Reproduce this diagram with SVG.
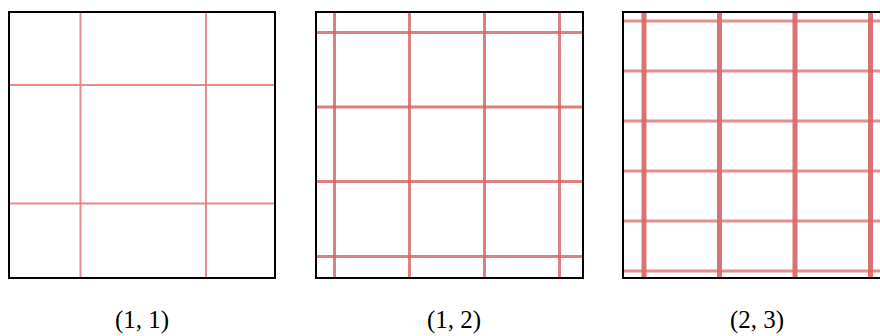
<svg xmlns="http://www.w3.org/2000/svg" width="880" height="336" viewBox="0 0 880 336">
<style>
.frame{fill:none;stroke:#000;stroke-width:2}
.l1{stroke:#e07878;stroke-width:2;stroke-opacity:0.85}
.l2{stroke:#d46060;stroke-width:3;stroke-opacity:0.8}
.v3{stroke:#d45c5c;stroke-width:5;stroke-opacity:0.85}
.h3{stroke:#dc6a6a;stroke-width:3;stroke-opacity:0.75}
.lbl{font-family:"Liberation Serif","DejaVu Serif",serif;font-size:25px;fill:#000;text-anchor:middle}
</style>
<defs><clipPath id="c3"><rect x="623" y="12" width="266" height="266"/></clipPath></defs>
<g id="panel1">
<rect x="9" y="12" width="266" height="266" fill="#fff"/>
<line class="l1" x1="80.5" y1="13" x2="80.5" y2="277"/>
<line class="l1" x1="206" y1="13" x2="206" y2="277"/>
<line class="l1" x1="10" y1="85" x2="274" y2="85"/>
<line class="l1" x1="10" y1="203.5" x2="274" y2="203.5"/>
<rect class="frame" x="9" y="12" width="266" height="266"/>
<text class="lbl" x="142" y="328">(1, 1)</text>
</g>
<g id="panel2">
<rect x="316" y="12" width="267" height="266" fill="#fff"/>
<line class="l2" x1="334.5" y1="13" x2="334.5" y2="277"/>
<line class="l2" x1="409.5" y1="13" x2="409.5" y2="277"/>
<line class="l2" x1="484.5" y1="13" x2="484.5" y2="277"/>
<line class="l2" x1="559.5" y1="13" x2="559.5" y2="277"/>
<line class="l2" x1="317" y1="32.5" x2="582" y2="32.5"/>
<line class="l2" x1="317" y1="107" x2="582" y2="107"/>
<line class="l2" x1="317" y1="181.5" x2="582" y2="181.5"/>
<line class="l2" x1="317" y1="256.5" x2="582" y2="256.5"/>
<rect class="frame" x="316" y="12" width="267" height="266"/>
<text class="lbl" x="454" y="328">(1, 2)</text>
</g>
<g id="panel3">
<rect x="623" y="12" width="266" height="266" fill="#fff"/>
<g clip-path="url(#c3)">
<line class="v3" x1="644" y1="13" x2="644" y2="277"/>
<line class="v3" x1="719.5" y1="13" x2="719.5" y2="277"/>
<line class="v3" x1="795" y1="13" x2="795" y2="277"/>
<line class="v3" x1="870.5" y1="13" x2="870.5" y2="277"/>
<line class="h3" x1="624" y1="21" x2="888" y2="21"/>
<line class="h3" x1="624" y1="71" x2="888" y2="71"/>
<line class="h3" x1="624" y1="121" x2="888" y2="121"/>
<line class="h3" x1="624" y1="171" x2="888" y2="171"/>
<line class="h3" x1="624" y1="221" x2="888" y2="221"/>
<line class="h3" x1="624" y1="271" x2="888" y2="271"/>
</g>
<rect class="frame" x="623" y="12" width="266" height="266"/>
<text class="lbl" x="757" y="328">(2, 3)</text>
</g>
</svg>
